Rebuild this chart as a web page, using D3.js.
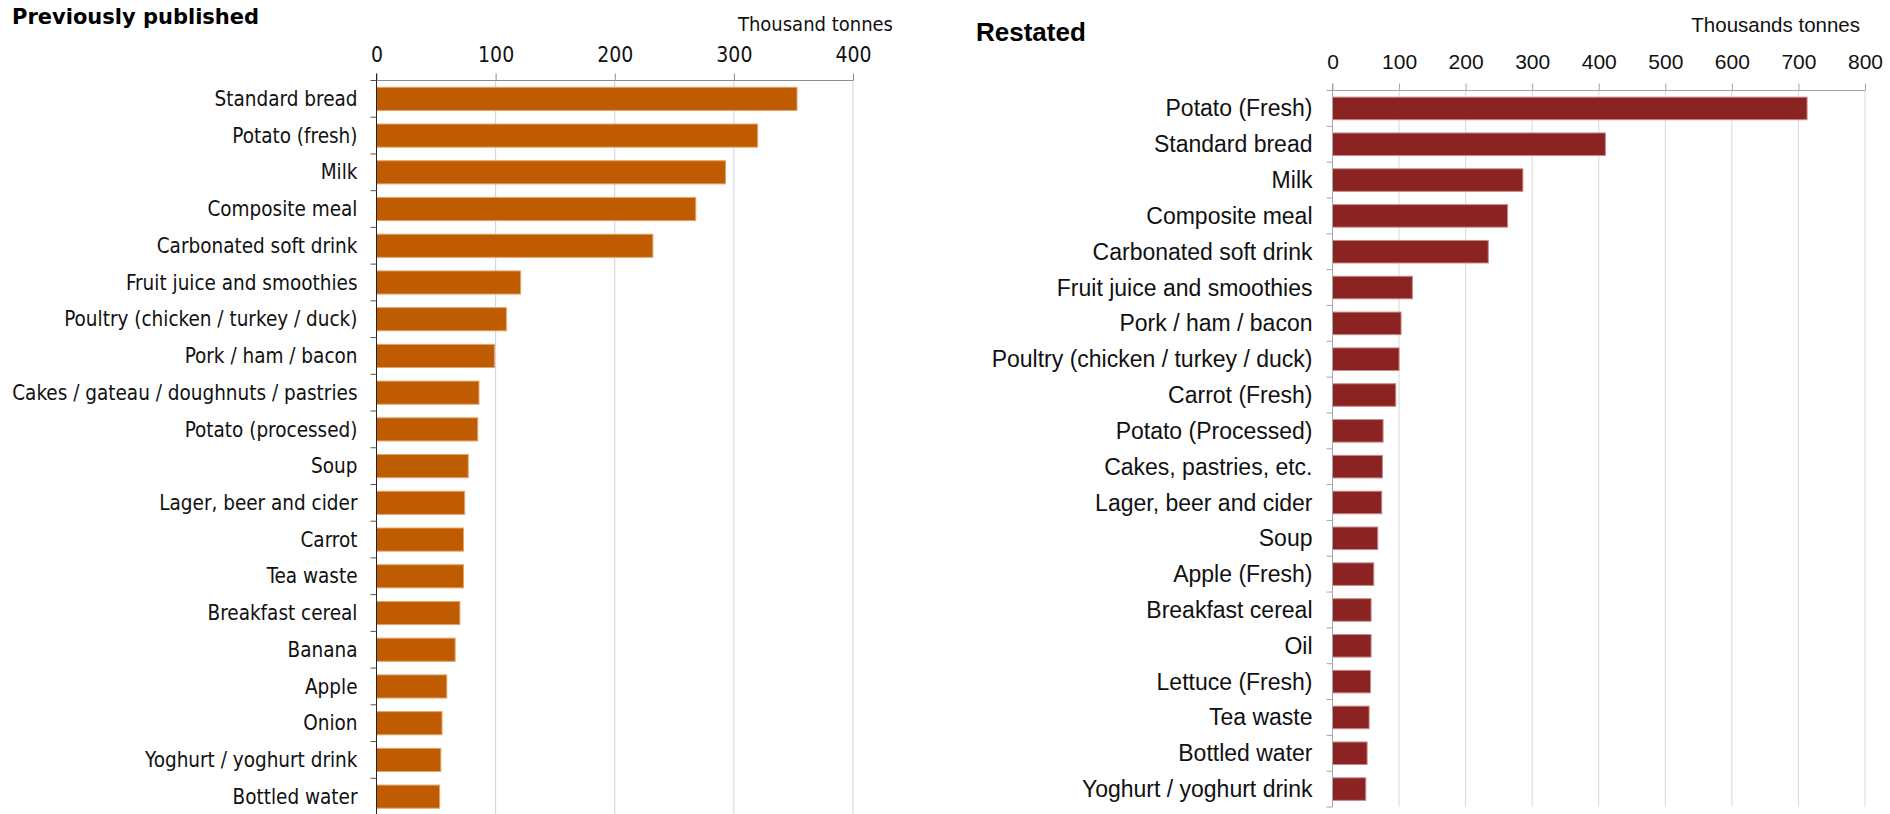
<!DOCTYPE html>
<html><head><meta charset="utf-8">
<script src="https://cdn.jsdelivr.net/npm/d3@7"></script>
<style>
html,body{margin:0;padding:0;background:#fff;}
svg{display:block;}
</style></head>
<body>
<svg id="chart" width="1890" height="814"></svg>
<script>
// ---- Data ----
const prevCategories = ["Standard bread","Potato (fresh)","Milk","Composite meal","Carbonated soft drink","Fruit juice and smoothies","Poultry (chicken / turkey / duck)","Pork / ham / bacon","Cakes / gateau / doughnuts / pastries","Potato (processed)","Soup","Lager, beer and cider","Carrot","Tea waste","Breakfast cereal","Banana","Apple","Onion","Yoghurt / yoghurt drink","Bottled water"];
const prevValues = [353,320,293,268,232,121,109,99,86,85,77,74,73,73,70,66,59,55,54,53];
const prevTicks = [0,100,200,300,400];

const restCategories = ["Potato (Fresh)","Standard bread","Milk","Composite meal","Carbonated soft drink","Fruit juice and smoothies","Pork / ham / bacon","Poultry (chicken / turkey / duck)","Carrot (Fresh)","Potato (Processed)","Cakes, pastries, etc.","Lager, beer and cider","Soup","Apple (Fresh)","Breakfast cereal","Oil","Lettuce (Fresh)","Tea waste","Bottled water","Yoghurt / yoghurt drink"];
const restValues = [713,410,286,263,234,120,103,100,95,76,75,74,68,62,58,58,57,55,52,50];
const restTicks = [0,100,200,300,400,500,600,700,800];

const svg = d3.select("#chart");

function drawPanel(cfg) {
  const g = svg.append("g");
  const x = d3.scaleLinear().domain([0, cfg.ticks[cfg.ticks.length-1]]).range([cfg.x0, cfg.x1]);
  const y = d3.scaleBand().domain(cfg.cats).range([cfg.y0, cfg.y1]).paddingInner(0.37).paddingOuter(0.185);
  const step = y.step();
  const off = (step - y.bandwidth())/2;

  // gridlines
  g.append("g").selectAll("line").data(cfg.ticks.slice(1)).join("line")
    .attr("x1", d=>x(d)).attr("x2", d=>x(d))
    .attr("y1", cfg.y0).attr("y2", cfg.y1)
    .attr("stroke", cfg.gridColor).attr("stroke-width", 1);

  // bars
  g.append("g").selectAll("rect").data(cfg.cats).join("rect")
    .attr("x", x(0)).attr("y", d=>y(d))
    .attr("width", (d,i)=>x(cfg.vals[i]) - x(0))
    .attr("height", y.bandwidth())
    .attr("fill", cfg.barColor)
    .attr("stroke", cfg.barStroke).attr("stroke-width", 1);

  // x axis (top)
  const xAxis = d3.axisTop(x).tickValues(cfg.ticks).tickSize(7).tickPadding(cfg.tickPad).tickFormat(d3.format("d"));
  const xa = g.append("g").attr("transform", `translate(0,${cfg.y0})`).call(xAxis);
  xa.select(".domain").attr("stroke", cfg.xAxisColor).attr("d", `M${cfg.x0},0H${cfg.x1}`);
  xa.selectAll(".tick line").attr("stroke", cfg.xAxisColor);
  xa.selectAll(".tick text").attr("font-family", cfg.font).attr("font-size", cfg.tickSize).attr("fill", "#111");

  // y axis
  const ya = g.append("g");
  ya.append("line").attr("x1", x(0)).attr("x2", x(0)).attr("y1", cfg.y0 - 7).attr("y2", cfg.y1)
    .attr("stroke", cfg.yAxisColor).attr("stroke-width", 1);
  const bounds = cfg.cats.map(c => y(c) - off).concat([y(cfg.cats[cfg.cats.length-1]) + y.bandwidth() + off]);
  ya.selectAll("line.tk").data(bounds).join("line").attr("class","tk")
    .attr("x1", x(0) - 6).attr("x2", x(0)).attr("y1", d=>d).attr("y2", d=>d)
    .attr("stroke", cfg.yTickColor).attr("stroke-width", 1);
  ya.selectAll("text").data(cfg.cats).join("text")
    .attr("x", x(0) - cfg.labelGap).attr("y", d => y(d) + y.bandwidth()/2)
    .attr("dy", "0.35em").attr("text-anchor", "end")
    .attr("font-family", cfg.font).attr("font-size", cfg.labelSize).attr("fill", "#111")
    .text(d=>d);

  // titles
  g.append("text").attr("x", cfg.titleX).attr("y", cfg.titleY)
    .attr("font-family", cfg.titleFont).attr("font-weight", "bold").attr("font-size", cfg.titleSize).attr("fill", "#000")
    .text(cfg.title);
  g.append("text").attr("x", cfg.unitX).attr("y", cfg.unitY).attr("text-anchor", "end")
    .attr("font-family", cfg.font).attr("font-size", cfg.unitSize).attr("fill", "#111")
    .text(cfg.unit);
}

drawPanel({
  cats: prevCategories, vals: prevValues, ticks: prevTicks,
  x0: 376.5, x1: 853, y0: 80.5, y1: 815,
  barColor: "#BF5B00", barStroke: "#E2A46A", gridColor: "#C9D0E0",
  xAxisColor: "#8C8C8C", yAxisColor: "#222", yTickColor: "#555",
  font: "'DejaVu Sans Condensed', 'DejaVu Sans'", titleFont: "'DejaVu Sans'",
  tickSize: 21, labelSize: 20.5, unitSize: 20, titleSize: 21, tickPad: 12, labelGap: 19,
  title: "Previously published", titleX: 12, titleY: 24,
  unit: "Thousand tonnes", unitX: 893, unitY: 31
});

drawPanel({
  cats: restCategories, vals: restValues, ticks: restTicks,
  x0: 1332.5, x1: 1865, y0: 90.5, y1: 807,
  barColor: "#8B2322", barStroke: "#C98A8A", gridColor: "#D9D9D9",
  xAxisColor: "#A6A6A6", yAxisColor: "#A6A6A6", yTickColor: "#A6A6A6",
  font: "'Liberation Sans', Arial", titleFont: "'Liberation Sans', Arial",
  tickSize: 21, labelSize: 23, unitSize: 20.5, titleSize: 26, tickPad: 15, labelGap: 20,
  title: "Restated", titleX: 976, titleY: 41,
  unit: "Thousands tonnes", unitX: 1860, unitY: 32
});
</script>
</body></html>
